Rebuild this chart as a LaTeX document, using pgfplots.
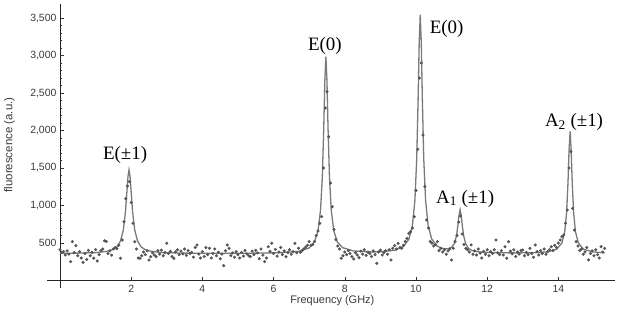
\documentclass[border=0pt]{standalone}
\usepackage{fontspec}
\setmainfont{Liberation Sans}
\newfontfamily\seriffont{Liberation Serif}
\usepackage{pgfplots}
\pgfplotsset{compat=1.18}
\definecolor{dotgray}{HTML}{555555}
\definecolor{linegray}{HTML}{7A7A7A}
\definecolor{textgray}{HTML}{3A3A3A}
\begin{document}
\begin{tikzpicture}
\path[use as bounding box] (-47.5bp,-27bp) rectangle (575.5bp,288bp);
\begin{axis}[
  at={(0,0)}, anchor=south west,
  x=35.6bp, y=0.075bp,
  xmin=-0.35, xmax=15.6, ymin=-100, ymax=3690,
  axis lines=middle,
  axis line style={-, black!85, line width=0.6pt},
  clip=false,
  xtick={2,4,...,14},
  ytick={500,1000,...,3500},
  minor y tick num=4,
  tick align=inside,
  major tick length=4bp,
  minor tick length=2.5bp,
  tick style={black!80, line width=0.5pt},
  /pgf/number format/1000 sep={,},
  /pgf/number format/assume math mode=true,
  tick label style={font=\fontsize{10.5}{12}\selectfont, text=textgray},
  xticklabel style={yshift=-1.5bp},
  xlabel={Frequency (GHz)},
  ylabel={fluorescence (a.u.)},
  xlabel style={at={(axis cs:7.65,-270)}, anchor=center, font=\fontsize{11}{12}\selectfont, text=textgray},
  ylabel style={at={(axis cs:-1.42,1807)}, anchor=center, rotate=90, font=\fontsize{11.5}{12}\selectfont, text=textgray},
]
% fitted curve
\addplot[linegray, line width=1.3bp] coordinates {
(0,363)(0.5,365)(1.0,372)(1.3,387)(1.5,415)(1.6,449)(1.7,525)(1.78,673)(1.84,917)(1.88,1180)(1.91,1383)(1.94,1475)(1.97,1383)(2.00,1180)(2.04,917)(2.10,673)(2.18,525)(2.28,449)(2.38,415)(2.58,387)(2.88,372)(3.5,365)(4.5,362)(5.5,365)(6.2,371)(6.7,388)(7.0,434)(7.15,514)(7.25,667)(7.32,941)(7.37,1384)(7.41,2040)(7.44,2661)(7.47,2985)(7.50,2661)(7.53,2040)(7.57,1384)(7.62,941)(7.69,667)(7.79,514)(7.94,438)(8.24,394)(8.74,381)(9.0,383)(9.4,403)(9.65,453)(9.8,550)(9.9,734)(9.97,1068)(10.02,1606)(10.06,2402)(10.09,3157)(10.12,3545)(10.15,3157)(10.18,2402)(10.22,1609)(10.27,1072)(10.34,739)(10.44,556)(10.59,459)(10.75,426)(10.9,423)(11.0,443)(11.08,495)(11.14,600)(11.18,742)(11.21,875)(11.24,945)(11.27,871)(11.30,738)(11.34,596)(11.40,485)(11.48,428)(11.58,399)(11.8,379)(12.2,370)(12.8,368)(13.3,370)(13.7,382)(13.95,416)(14.1,500)(14.18,652)(14.23,896)(14.27,1298)(14.30,1734)(14.33,1987)(14.36,1734)(14.39,1298)(14.43,896)(14.48,652)(14.56,500)(14.71,416)(14.96,382)(15.3,369)
};
% measured points
\addplot[only marks, mark=*, mark size=1.35bp, dotgray] table {
0.00 410
0.05 372
0.10 388
0.15 340
0.20 395
0.25 352
0.30 252
0.35 518
0.40 372
0.45 465
0.50 330
0.55 385
0.60 300
0.65 243
0.70 360
0.75 280
0.80 402
0.85 330
0.90 375
0.95 298
1.00 412
1.05 260
1.10 345
1.15 398
1.20 420
1.25 531
1.30 520
1.35 360
1.40 395
1.45 338
1.50 420
1.55 440
1.60 425
1.65 470
1.70 296
1.75 540
1.80 784
1.85 1090
1.90 1260
1.95 1317
2.00 1040
2.05 763
2.10 517
2.15 420
2.20 300
2.25 296
2.30 330
2.35 380
2.40 345
2.45 395
2.50 274
2.55 318
2.60 370
2.65 340
2.70 318
2.75 398
2.80 352
2.85 405
2.90 330
2.95 372
3.00 496
3.05 360
3.10 388
3.15 320
3.20 296
3.25 382
3.30 410
3.35 345
3.40 392
3.45 355
3.50 420
3.55 335
3.60 398
3.65 360
3.70 375
3.75 312
3.80 440
3.85 474
3.90 352
3.95 300
4.00 385
4.05 320
4.10 438
4.15 345
4.20 429
4.25 300
4.30 360
4.35 420
4.40 330
4.45 378
4.50 290
4.55 352
4.60 198
4.65 398
4.70 474
4.75 429
4.80 332
4.85 368
4.90 310
4.95 385
5.00 345
5.05 300
5.10 372
5.15 325
5.20 400
5.25 355
5.30 330
5.35 318
5.40 392
5.45 345
5.50 402
5.55 368
5.60 290
5.65 420
5.70 340
5.75 252
5.80 300
5.85 451
5.90 390
5.95 496
6.00 360
6.05 415
6.10 325
6.15 380
6.20 440
6.25 345
6.30 395
6.35 318
6.40 372
6.45 410
6.50 350
6.55 385
6.60 496
6.65 370
6.70 429
6.75 375
6.80 398
6.85 420
6.90 445
6.95 470
7.00 518
7.05 470
7.10 480
7.15 520
7.20 600
7.25 660
7.30 763
7.35 851
7.40 1500
7.45 2300
7.50 2517
7.55 1918
7.60 1300
7.65 984
7.70 680
7.75 545
7.80 460
7.85 420
7.90 296
7.95 331
8.00 380
8.05 345
8.10 398
8.15 360
8.20 318
8.25 287
8.30 370
8.35 340
8.40 305
8.45 392
8.50 352
8.55 410
8.60 335
8.65 378
8.70 360
8.75 320
8.80 395
8.85 345
8.90 229
8.95 380
9.00 405
9.05 340
9.10 372
9.15 398
9.20 350
9.25 410
9.30 274
9.35 430
9.40 465
9.45 420
9.50 496
9.55 440
9.60 430
9.65 470
9.70 520
9.75 560
9.80 629
9.85 650
9.90 700
9.95 850
10.00 1200
10.05 1750
10.10 2700
10.15 2900
10.20 1940
10.25 1251
10.30 807
10.35 700
10.40 520
10.45 496
10.50 460
10.55 480
10.60 518
10.65 400
10.70 430
10.75 380
10.80 410
10.85 350
10.90 395
10.95 420
11.00 274
11.05 430
11.10 520
11.15 600
11.20 780
11.25 860
11.30 620
11.35 480
11.40 429
11.45 410
11.50 380
11.55 474
11.60 350
11.65 395
11.70 340
11.75 420
11.80 365
11.85 300
11.90 388
11.95 350
12.00 410
12.05 330
12.10 385
12.15 360
12.20 410
12.25 540
12.30 370
12.35 345
12.40 398
12.45 340
12.50 451
12.55 296
12.60 518
12.65 392
12.70 355
12.75 410
12.80 320
12.85 380
12.90 352
12.95 400
13.00 407
13.05 330
13.10 375
13.15 345
13.20 430
13.25 360
13.30 310
13.35 474
13.40 385
13.45 340
13.50 398
13.55 360
13.60 420
13.65 350
13.70 385
13.75 410
13.80 450
13.85 400
13.90 470
13.95 440
14.00 500
14.05 540
14.10 585
14.15 607
14.20 763
14.25 940
14.30 1500
14.35 1718
14.40 963
14.45 673
14.50 518
14.55 460
14.60 400
14.65 420
14.70 350
14.75 380
14.80 440
14.85 274
14.90 360
14.95 395
15.00 330
15.05 410
15.10 345
15.15 300
15.20 451
15.25 380
15.30 429
};
\node[font=\seriffont\fontsize{19}{20}\selectfont, anchor=base] at (axis cs:1.83,1607) {E(±1)};
\node[font=\seriffont\fontsize{19}{20}\selectfont, anchor=base] at (axis cs:7.44,3064) {E(0)};
\node[font=\seriffont\fontsize{19}{20}\selectfont, anchor=base] at (axis cs:10.86,3300) {E(0)};
\node[font=\seriffont\fontsize{19}{20}\selectfont, anchor=base] at (axis cs:11.38,1033) {A\textsubscript{1} (±1)};
\node[font=\seriffont\fontsize{19}{20}\selectfont, anchor=base] at (axis cs:14.44,2047) {A\textsubscript{2} (±1)};
\end{axis}
\end{tikzpicture}
\end{document}
